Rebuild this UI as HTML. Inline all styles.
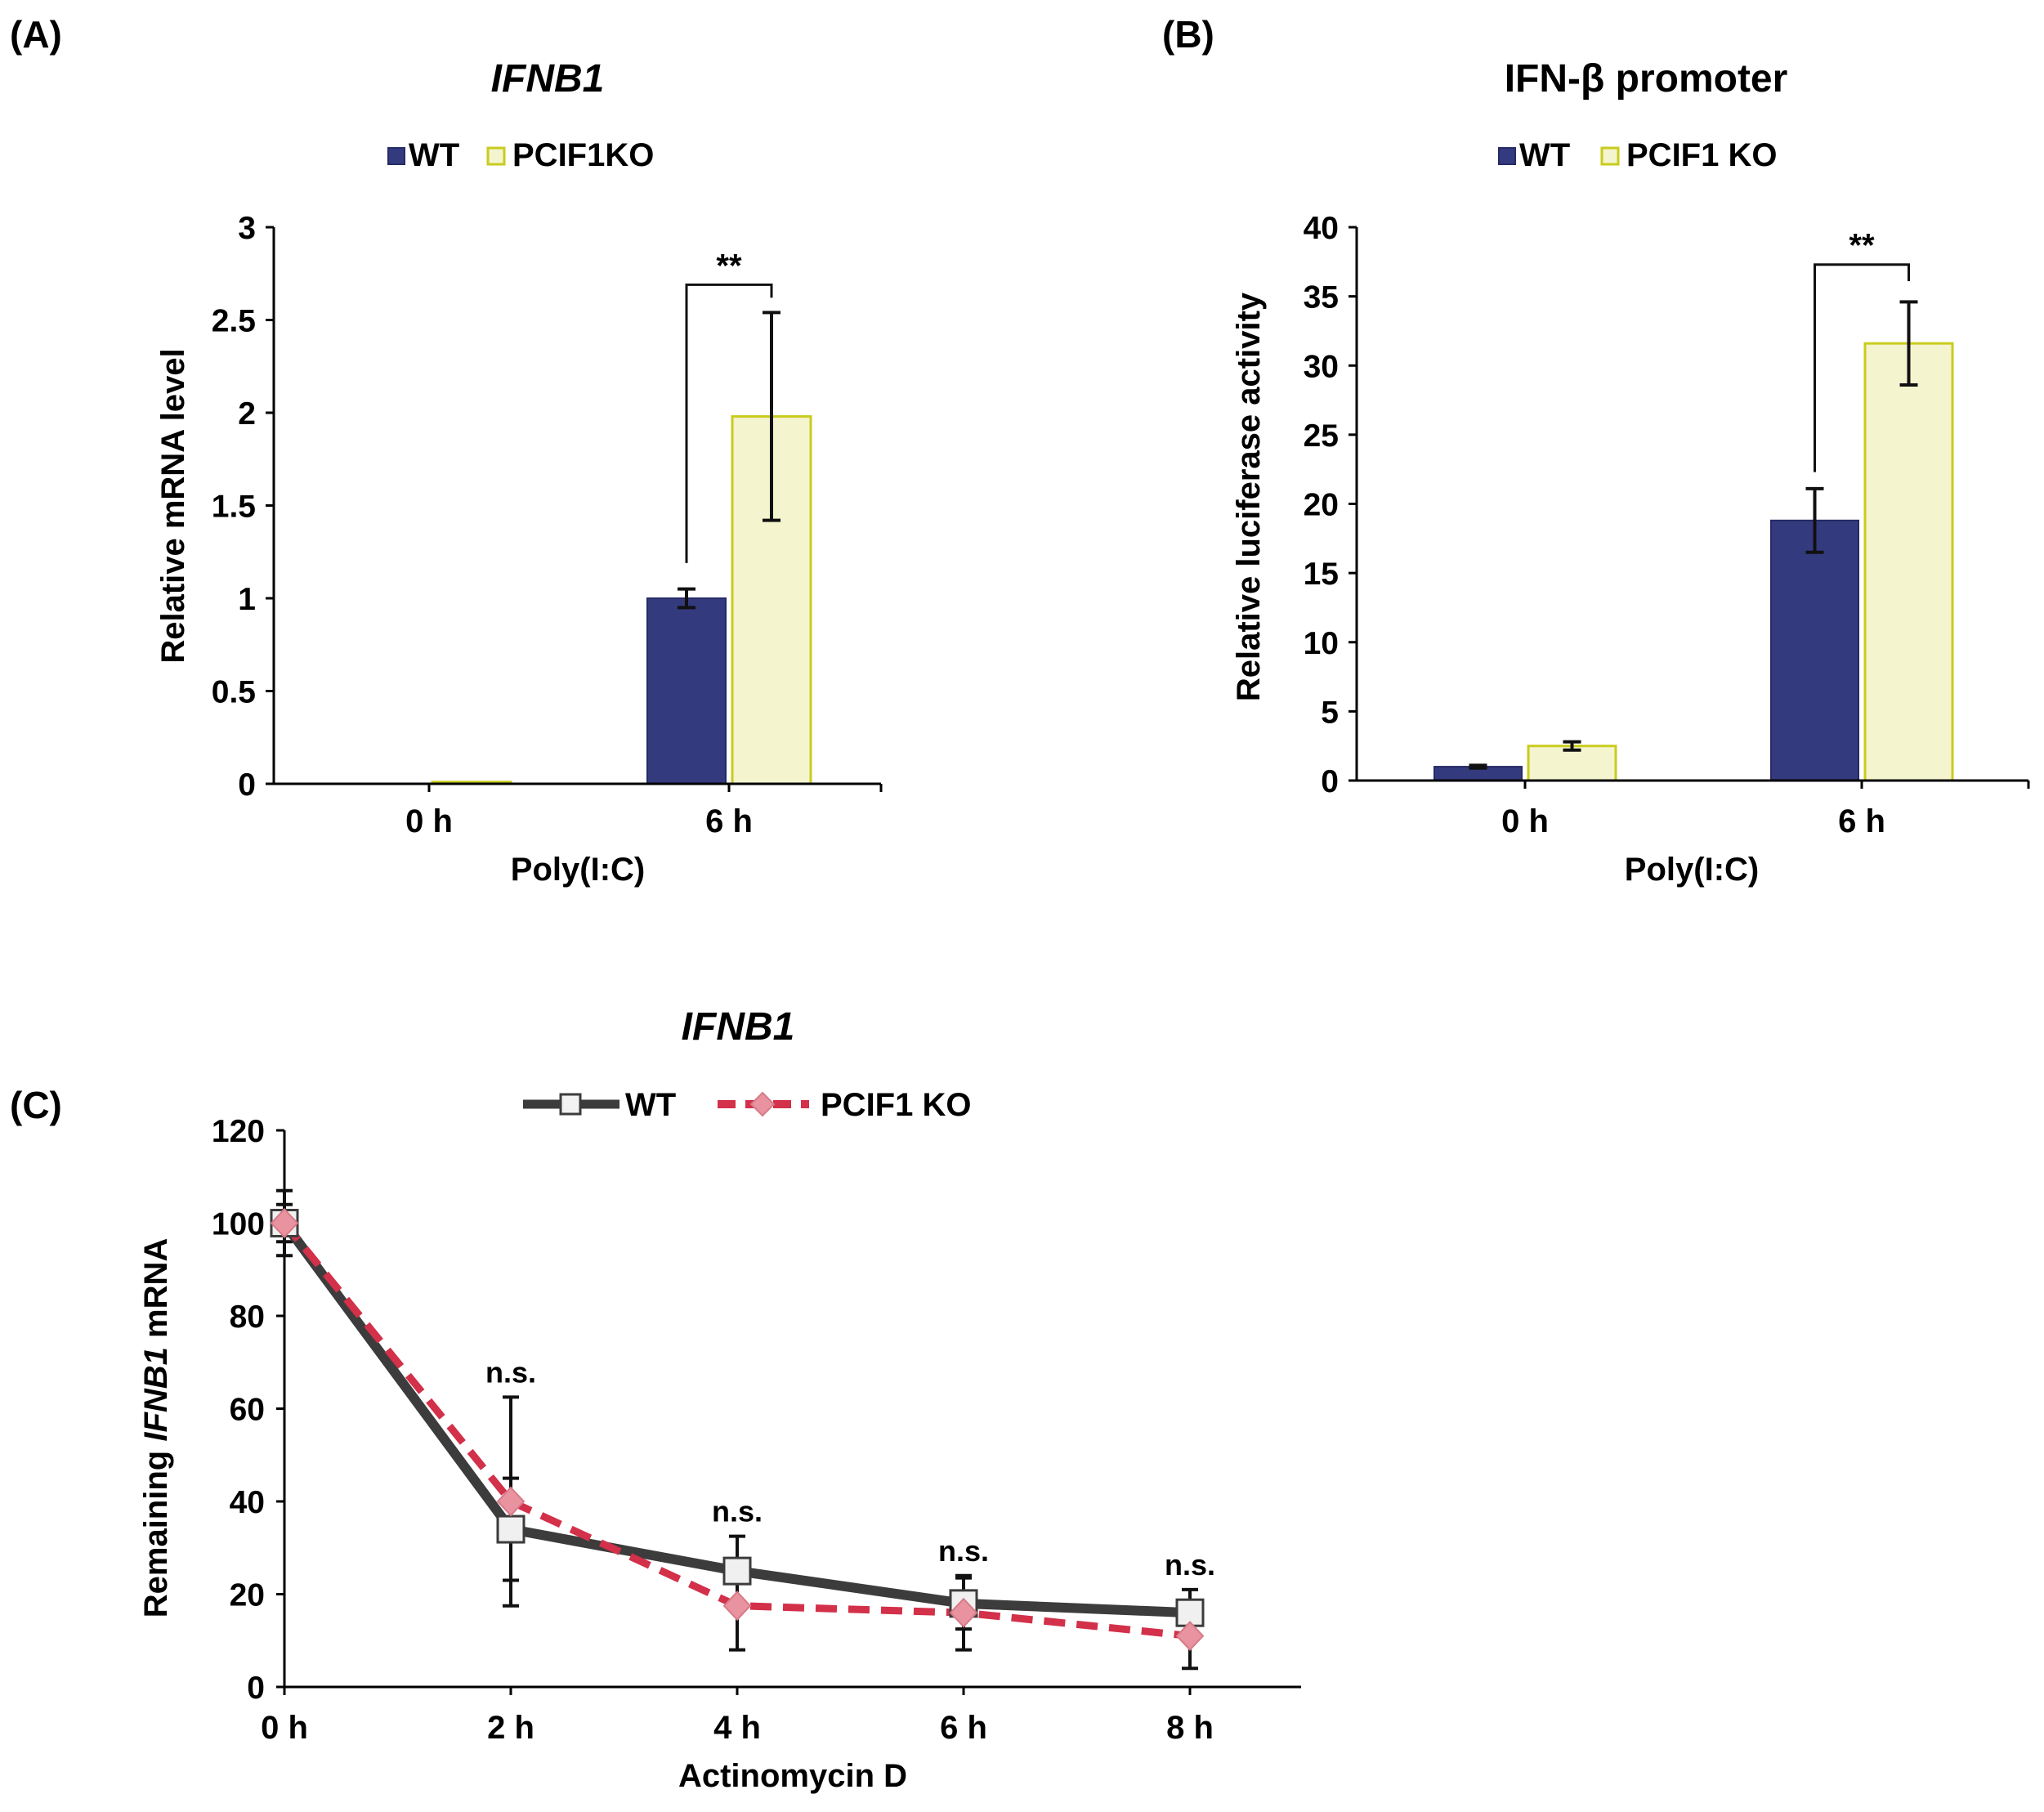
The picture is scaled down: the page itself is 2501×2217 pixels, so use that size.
<!DOCTYPE html>
<html><head><meta charset="utf-8"><style>
html,body{margin:0;padding:0;background:#fff;}
svg{display:block;font-family:"Liberation Sans",Arial,sans-serif;font-weight:bold;}
</style></head><body>
<svg id="fig" width="2501" height="2217" viewBox="0 0 2501 2217" xmlns="http://www.w3.org/2000/svg">
<g id="gA"></g>
<g id="gB"></g>
<g id="gC"></g>
</svg>
<script>
// Panel A data
const aCategories = ["0 h", "6 h"];
const aWT = [0, 1.0];
const aWTerr = [0, 0.05];
const aKO = [0.01, 1.98];
const aKOerr = [0, 0.56];
const aTicks = ["0", "0.5", "1", "1.5", "2", "2.5", "3"];
// Panel B data
const bCategories = ["0 h", "6 h"];
const bWT = [1.0, 18.8];
const bWTerr = [0.1, 2.3];
const bKO = [2.5, 31.6];
const bKOerr = [0.3, 3.0];
const bTicks = ["0", "5", "10", "15", "20", "25", "30", "35", "40"];
// Panel C data
const cCategories = ["0 h", "2 h", "4 h", "6 h", "8 h"];
const cWT = [100, 34, 25, 18, 16];
const cWTerr = [7, 11, 7.5, 5.5, 5];
const cKO = [100, 40, 17.5, 16, 11];
const cKOerr = [4, 22.5, 9.5, 8, 7];
const cTicks = ["0", "20", "40", "60", "80", "100", "120"];
const cSig = ["", "n.s.", "n.s.", "n.s.", "n.s."];

const NS = "http://www.w3.org/2000/svg";
function mk(parent, tag, attrs, text) {
  const e = document.createElementNS(NS, tag);
  for (const k in attrs) e.setAttribute(k, attrs[k]);
  if (text !== undefined) e.textContent = text;
  parent.appendChild(e);
  return e;
}

function barPanel(g, cfg) {
  const y = v => cfg.y0 - (v / cfg.max) * (cfg.y0 - cfg.yTop);
  const cx = i => cfg.cx[i];
  let e = mk(g, "text", {x: cfg.labelX, y: 58, "font-size": 46});
  e.textContent = cfg.letter;
  
  
  e = mk(g, "text", {x: cfg.titleX, y: 112, "font-size": 48, "text-anchor": "middle", "font-style": cfg.italic ? "italic" : "normal"}, cfg.title);
  
  
  // legend
  e = mk(g, "rect", {x: cfg.leg[0], y: 181, width: 20, height: 20, fill: "#343a7e", stroke: "#262a66", "stroke-width": 2});
  
  
  e = mk(g, "text", {x: cfg.leg[0] + 25, y: 203, "font-size": 40}, "WT");
  
  
  e = mk(g, "rect", {x: cfg.leg[1], y: 181, width: 20, height: 20, fill: "#f4f4cf", stroke: "#c9cc1e", "stroke-width": 3});
  
  
  e = mk(g, "text", {x: cfg.leg[1] + 30, y: 203, "font-size": 40}, cfg.koName);
  
  
  // axes
  e = mk(g, "line", {x1: cfg.x0, y1: cfg.yTop, x2: cfg.x0, y2: cfg.y0, stroke: "#000", "stroke-width": 3});
  
  
  cfg.ticks.forEach((t, i) => {
    const v = cfg.max * i / (cfg.ticks.length - 1);
    mk(g, "line", {x1: cfg.x0 - 10, y1: y(v), x2: cfg.x0, y2: y(v), stroke: "#000", "stroke-width": 3});
    const tl = mk(g, "text", {x: cfg.x0 - 22, y: y(v) + 14, "font-size": 39, "text-anchor": "end"}, t);
    
    
  });
  // bars
  cfg.cats.forEach((c, i) => {
    const w = cfg.bw;
    let b = mk(g, "rect", {x: cx(i) - w - 4, y: y(cfg.wt[i]), width: w, height: cfg.y0 - y(cfg.wt[i]), fill: "#343a7e", stroke: "#262a66", "stroke-width": 2});
    
    
    b = mk(g, "rect", {x: cx(i) + 4, y: y(cfg.ko[i]), width: w, height: cfg.y0 - y(cfg.ko[i]), fill: "#f4f4cf", stroke: "#c9cc1e", "stroke-width": 3});
    
    
    [[cx(i) - w / 2 - 4, cfg.wt[i], cfg.wtErr[i]], [cx(i) + w / 2 + 4, cfg.ko[i], cfg.koErr[i]]].forEach(([x, v, er]) => {
      if (er <= 0) return;
      const eb = mk(g, "path", {d: `M${x},${y(v + er)}V${y(v - er)}M${x - 11},${y(v + er)}h22M${x - 11},${y(v - er)}h22`, stroke: "#111", "stroke-width": 4, fill: "none"});
      
      
    });
    mk(g, "line", {x1: cx(i), y1: cfg.y0, x2: cx(i), y2: cfg.y0 + 10, stroke: "#000", "stroke-width": 3});
    const tl = mk(g, "text", {x: cx(i), y: 1018, "font-size": 40, "text-anchor": "middle"}, c);
    
    
  });
  e = mk(g, "line", {x1: cfg.x0, y1: cfg.y0, x2: cfg.xEnd, y2: cfg.y0, stroke: "#000", "stroke-width": 3});
  
  
  mk(g, "line", {x1: cfg.xEnd, y1: cfg.y0, x2: cfg.xEnd, y2: cfg.y0 + 10, stroke: "#000", "stroke-width": 3});
  // bracket
  const lx = cx(1) - cfg.bw / 2 - 4, rx = cx(1) + cfg.bw / 2 + 4;
  e = mk(g, "path", {d: `M${lx},${y(cfg.br[1])}V${y(cfg.br[0])}H${rx}V${y(cfg.br[2])}`, stroke: "#111", "stroke-width": 3, fill: "none"});
  
  
  e = mk(g, "text", {x: (lx + rx) / 2, y: y(cfg.br[0]) - 10, "font-size": 40, "text-anchor": "middle"}, "**");
  
  
  e = mk(g, "text", {x: cfg.xlabX, y: 1077, "font-size": 40, "text-anchor": "middle"}, "Poly(I:C)");
  
  
  e = mk(g, "text", {x: 0, y: 0, "font-size": 40, "text-anchor": "middle", transform: `translate(${cfg.ytX},${cfg.ytY}) rotate(-90)`}, cfg.ytitle);
  
  
}

barPanel(document.getElementById("gA"), {
  letter: "(A)", labelX: 12, title: "IFNB1", italic: true, titleX: 670,
  leg: [475, 597], koName: "PCIF1KO",
  x0: 335, xEnd: 1078, y0: 959, yTop: 278, max: 3, ticks: aTicks,
  cats: aCategories, cx: [525, 892], bw: 96,
  wt: aWT, wtErr: aWTerr, ko: aKO, koErr: aKOerr,
  br: [2.69, 1.19, 2.62], xlabX: 707, ytitle: "Relative mRNA level", ytX: 225, ytY: 619
});
barPanel(document.getElementById("gB"), {
  letter: "(B)", labelX: 1422, title: "IFN-β promoter", italic: false, titleX: 2014,
  leg: [1834, 1960], koName: "PCIF1 KO",
  x0: 1660, xEnd: 2482, y0: 955, yTop: 278, max: 40, ticks: bTicks,
  cats: bCategories, cx: [1866, 2278], bw: 107,
  wt: bWT, wtErr: bWTerr, ko: bKO, koErr: bKOerr,
  br: [37.3, 22.3, 36.1], xlabX: 2070, ytitle: "Relative luciferase activity", ytX: 1541, ytY: 608
});

// Panel C
(function () {
  const g = document.getElementById("gC");
  const x0 = 348, xEnd = 1592, y0 = 2064, yTop = 1383, max = 120;
  const y = v => y0 - (v / max) * (y0 - yTop);
  const xs = i => x0 + i * (1456 - x0) / (cCategories.length - 1);
  let e = mk(g, "text", {x: 12, y: 1368, "font-size": 46}, "(C)");
  
  
  e = mk(g, "text", {x: 903, y: 1272, "font-size": 48, "text-anchor": "middle", "font-style": "italic"}, "IFNB1");
  
  
  // legend
  e = mk(g, "line", {x1: 640, y1: 1351, x2: 758, y2: 1351, stroke: "#3c3c3c", "stroke-width": 11});
  
  
  mk(g, "rect", {x: 686, y: 1339, width: 24, height: 24, fill: "#f2f2f2", stroke: "#3c3c3c", "stroke-width": 3});
  e = mk(g, "text", {x: 765, y: 1365, "font-size": 40}, "WT");
  
  
  e = mk(g, "line", {x1: 878, y1: 1351, x2: 990, y2: 1351, stroke: "#d3304a", "stroke-width": 10, "stroke-dasharray": "22 12"});
  
  
  mk(g, "path", {d: "M933,1337l14,14l-14,14l-14,-14z", fill: "#e8939f", stroke: "#d77a88", "stroke-width": 2});
  e = mk(g, "text", {x: 1004, y: 1365, "font-size": 40}, "PCIF1 KO");
  
  
  // axes
  e = mk(g, "line", {x1: x0, y1: yTop, x2: x0, y2: y0, stroke: "#000", "stroke-width": 3});
  
  
  cTicks.forEach((t, i) => {
    const v = max * i / (cTicks.length - 1);
    mk(g, "line", {x1: x0 - 10, y1: y(v), x2: x0, y2: y(v), stroke: "#000", "stroke-width": 3});
    const tl = mk(g, "text", {x: x0 - 24, y: y(v) + 14, "font-size": 39, "text-anchor": "end"}, t);
    
    
  });
  e = mk(g, "line", {x1: x0, y1: y0, x2: xEnd, y2: y0, stroke: "#000", "stroke-width": 3});
  
  
  cCategories.forEach((c, i) => {
    mk(g, "line", {x1: xs(i), y1: y0, x2: xs(i), y2: y0 + 10, stroke: "#000", "stroke-width": 3});
    const tl = mk(g, "text", {x: xs(i), y: 2127, "font-size": 40, "text-anchor": "middle"}, c);
    
    
  });
  function eb(i, v, er, name) {
    const x = xs(i);
    const p = mk(g, "path", {d: `M${x},${y(v + er)}V${y(v - er)}M${x - 10},${y(v + er)}h20M${x - 10},${y(v - er)}h20`, stroke: "#111", "stroke-width": 4, fill: "none"});
    
    
  }
  cCategories.forEach((c, i) => { eb(i, cWT[i], cWTerr[i], 'error-bar-wt'); eb(i, cKO[i], cKOerr[i], 'error-bar-ko'); });
  e = mk(g, "polyline", {points: cWT.map((v, i) => `${xs(i)},${y(v)}`).join(" "), fill: "none", stroke: "#3c3c3c", "stroke-width": 12, "stroke-linejoin": "round"});
  
  
  e = mk(g, "polyline", {points: cKO.map((v, i) => `${xs(i)},${y(v)}`).join(" "), fill: "none", stroke: "#d3304a", "stroke-width": 9, "stroke-dasharray": "26 14"});
  
  
  cWT.forEach((v, i) => {
    const m = mk(g, "rect", {x: xs(i) - 16, y: y(v) - 16, width: 32, height: 32, fill: "#f0f0f0", stroke: "#3c3c3c", "stroke-width": 3});
    
    
  });
  cKO.forEach((v, i) => {
    const px = xs(i), py = y(v);
    const m = mk(g, "path", {d: `M${px},${py - 17}l16,17l-16,17l-16,-17z`, fill: "#e8939f", stroke: "#d77a88", "stroke-width": 2});
    
    
  });
  cSig.forEach((s, i) => {
    if (!s) return;
    const top = Math.max(cWT[i] + cWTerr[i], cKO[i] + cKOerr[i]);
    const t = mk(g, "text", {x: xs(i), y: y(top) - 18, "font-size": 36, "text-anchor": "middle"}, s);
    
    
  });
  e = mk(g, "text", {x: 970, y: 2186, "font-size": 40, "text-anchor": "middle"}, "Actinomycin D");
  
  
  const yt = mk(g, "text", {x: 0, y: 0, "font-size": 40, "text-anchor": "middle", transform: "translate(204,1747) rotate(-90)"});
  
  
  mk(yt, "tspan", {}, "Remaining ");
  mk(yt, "tspan", {"font-style": "italic"}, "IFNB1");
  mk(yt, "tspan", {}, " mRNA");
})();
</script>
</body></html>
